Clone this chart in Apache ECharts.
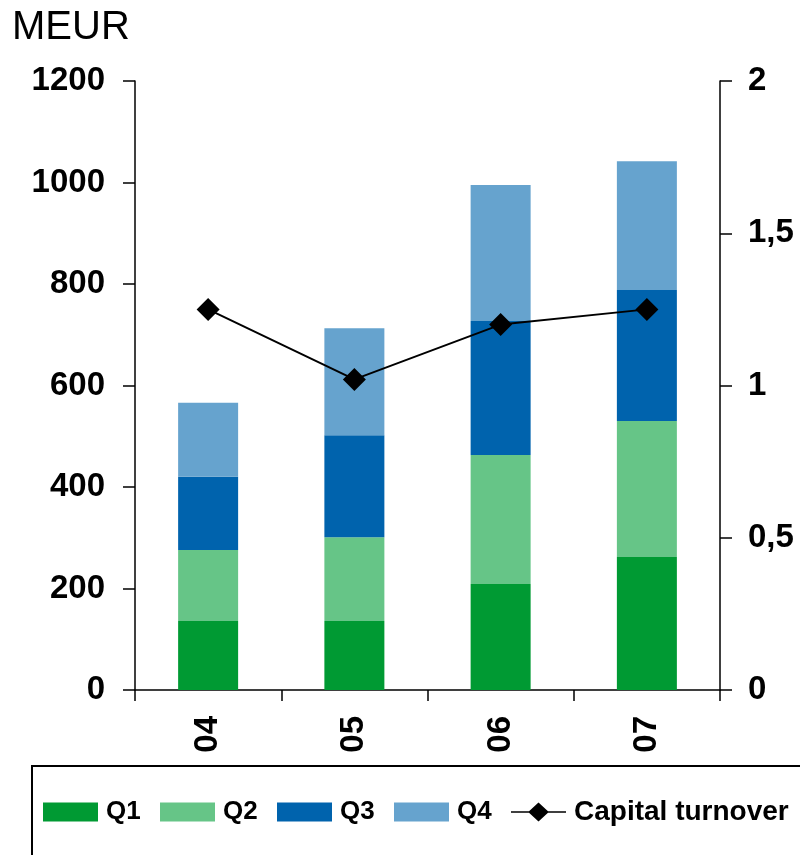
<!DOCTYPE html>
<html>
<head>
<meta charset="utf-8">
<script src="https://cdn.jsdelivr.net/npm/echarts@6/dist/echarts.min.js"></script>
<style>
  html, body { margin: 0; padding: 0; background: #fff; }
  #chart { width: 800px; height: 855px; }
</style>
</head>
<body>
<div id="chart"></div>
<script>
// Sales per quarter (MEUR) and capital turnover by year
const categories = ['04', '05', '06', '07'];
const q1 = [136, 136, 209, 262];
const q2 = [140, 165, 254, 268];
const q3 = [144, 201, 264, 258];
const q4 = [146, 211, 268, 254];
const capitalTurnover = [1.25, 1.02, 1.20, 1.25];
const leftTicks = { min: 0, max: 1200, interval: 200 };
const rightTicks = { min: 0, max: 2, interval: 0.5 };

const colors = { Q1: '#009A33', Q2: '#66C587', Q3: '#0063AD', Q4: '#66A3CE' };
const FONT = '"Liberation Sans", Arial, sans-serif';

// Legend icon for the line series: a horizontal rule with a diamond on it
const LINE_DIAMOND_ICON = 'path://M0,8.8L18,8.8L27.5,0L37,8.8L55,8.8L55,10.2L37,10.2L27.5,19L18,10.2L0,10.2Z';

const chart = echarts.init(document.getElementById('chart'), null, { renderer: 'canvas' });

const axisCommon = {
  axisLine: { show: true, lineStyle: { color: '#000', width: 1.5 } },
  axisTick: { show: true, inside: false, length: 12, lineStyle: { color: '#000', width: 1.5 } },
  splitLine: { show: false },
  axisLabel: { color: '#000', fontFamily: FONT, fontWeight: 'bold', fontSize: 33 }
};

function legendAt(name, left, extra, fontSize) {
  return Object.assign({
    data: [name],
    left: left,
    top: 797,
    padding: 0,
    itemWidth: 55,
    itemHeight: 19,
    selectedMode: false,
    textStyle: {
      color: '#000', fontFamily: FONT, fontWeight: 'bold', fontSize: fontSize || 26,
      lineHeight: 30, padding: [0, 0, 0, 3]
    }
  }, extra || {});
}

function barSeries(name, data) {
  return {
    name: name,
    type: 'bar',
    stack: 'sales',
    barWidth: 60,
    data: data,
    itemStyle: { color: colors[name] },
    emphasis: { disabled: true }
  };
}

chart.setOption({
  animation: false,
  backgroundColor: '#fff',
  grid: { left: 135, right: 80, top: 81, bottom: 165, containLabel: false },
  graphic: [
    {
      type: 'text', left: 12, top: 8,
      style: { text: 'MEUR', fill: '#000', font: 'normal 40px ' + FONT }
    },
    {
      type: 'rect', z: 0,
      shape: { x: 32, y: 766, width: 820, height: 150 },
      style: { fill: 'none', stroke: '#000', lineWidth: 2 }
    }
  ],
  legend: [
    legendAt('Q1', 43, { icon: 'rect' }),
    legendAt('Q2', 160, { icon: 'rect' }),
    legendAt('Q3', 277, { icon: 'rect' }),
    legendAt('Q4', 394, { icon: 'rect' }),
    legendAt('Capital turnover', 511, {
      icon: LINE_DIAMOND_ICON,
      itemStyle: { color: '#000', borderWidth: 0 },
      lineStyle: { width: 0 }
    }, 28)
  ],
  xAxis: Object.assign({}, axisCommon, {
    type: 'category',
    data: categories,
    boundaryGap: true,
    axisTick: { show: true, length: 11, alignWithLabel: false, lineStyle: { color: '#000', width: 1.5 } },
    axisLabel: Object.assign({}, axisCommon.axisLabel, { rotate: 90, margin: 26 })
  }),
  yAxis: [
    Object.assign({}, axisCommon, {
      type: 'value',
      min: leftTicks.min, max: leftTicks.max, interval: leftTicks.interval,
      axisLabel: Object.assign({}, axisCommon.axisLabel, {
        margin: 30,
        formatter: v => String(v)
      })
    }),
    Object.assign({}, axisCommon, {
      type: 'value',
      position: 'right',
      min: rightTicks.min, max: rightTicks.max, interval: rightTicks.interval,
      axisLabel: Object.assign({}, axisCommon.axisLabel, {
        margin: 28,
        formatter: v => String(v).replace('.', ',')
      })
    })
  ],
  series: [
    barSeries('Q1', q1),
    barSeries('Q2', q2),
    barSeries('Q3', q3),
    barSeries('Q4', q4),
    {
      name: 'Capital turnover',
      type: 'line',
      yAxisIndex: 1,
      data: capitalTurnover,
      symbol: 'diamond',
      symbolSize: 23,
      lineStyle: { color: '#000', width: 2 },
      itemStyle: { color: '#000' },
      z: 5,
      emphasis: { disabled: true }
    }
  ]
});
</script>
</body>
</html>
